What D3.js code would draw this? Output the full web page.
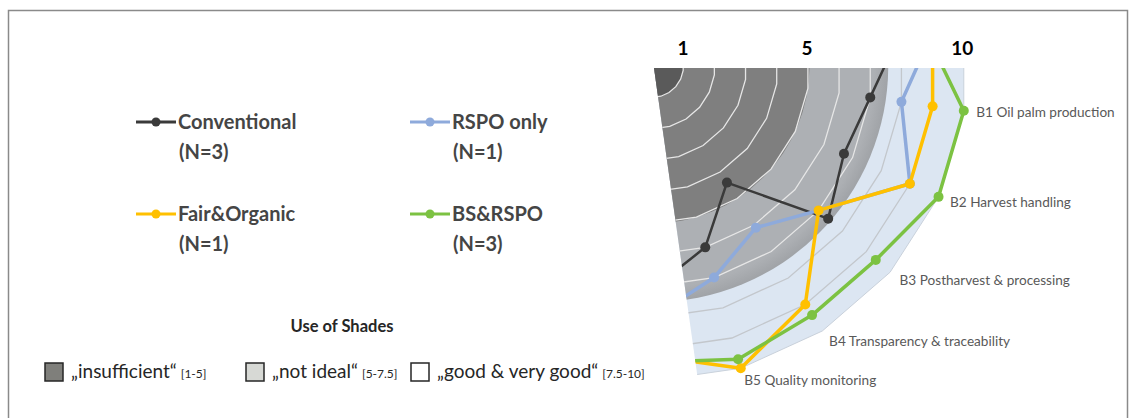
<!DOCTYPE html>
<html>
<head>
<meta charset="utf-8">
<script src="https://cdn.jsdelivr.net/npm/d3@7"></script>
<style>
  body { margin: 0; background: #fff; }
  text { font-family: Lato, "Open Sans", sans-serif; }
</style>
</head>
<body>
<svg id="chart" width="1135" height="418"></svg>
<script>
// radar has 22 spokes, only the B block (plus neighbours) is visible
var spokeCount = 22;
var spokeIndex = [5, 6, 7, 8, 9, 10, 11];
var axisLabels = ["", "B1 Oil palm production", "B2 Harvest handling", "B3 Postharvest & processing",
  "B4 Transparency & traceability", "B5 Quality monitoring", ""];

var seriesNames = ["Conventional", "RSPO only", "Fair&Organic", "BS&RSPO"];
var seriesN = ["(N=3)", "(N=1)", "(N=1)", "(N=3)"];
var seriesColors = ["#3a3a3a", "#8eaadb", "#ffc000", "#7cc242"];
var conventional = [8.0, 7.0, 6.7, 7.4, 4.4, 6.0, 7.1];
var rspoOnly = [9.1, 8.0, 9.0, 7.0, 6.1, 7.0, 8.0];
var fairOrganic = [9.0, 9.0, 9.0, 7.0, 9.0, 10.0, 9.2];
var bsRspo = [8.7, 10.0, 10.0, 9.4, 9.4, 9.7, 9.4];
var seriesValues = [conventional, rspoOnly, fairOrganic, bsRspo];

var tickValues = [1, 5, 10];
var shadeNames = ["\u201Einsufficient\u201C", "\u201Enot ideal\u201C", "\u201Egood & very good\u201C"];
var shadeRanges = ["[1-5]", "[5-7.5]", "[7.5-10]"];
var shadeBreaks = [1, 5, 7.5, 10];

var svg = d3.select("#chart");
var cx = 652, cy = 66;

var rScale = d3.scaleLinear().domain([0, 10]).range([0, 315]);
var angle = function (i) { return 2 * Math.PI * i / spokeCount; };   // 0 = up, clockwise
var px = function (i, v) { return cx + rScale(v) * Math.sin(angle(i)); };
var py = function (i, v) { return cy - rScale(v) * Math.cos(angle(i)); };

// frame
svg.append("rect")
  .attr("x", 8.5).attr("y", 10.5).attr("width", 1119).attr("height", 430)
  .attr("fill", "none").attr("stroke", "#8a8a8a").attr("stroke-width", 1.5);

// wedge clip: from the top cut to halfway between B5 and the next spoke
var defs = svg.append("defs");
var leftA = angle(10.5);
var far = 600;
defs.append("clipPath").attr("id", "wedge")
  .append("polygon")
  .attr("points", [
    [cx + 2, cy + 2],
    [cx + far, cy + 2],
    [cx + far, cy + far],
    [cx + far * Math.sin(leftA), cy - far * Math.cos(leftA)]
  ].map(function (p) { return p.join(","); }).join(" "));

var grad = defs.append("radialGradient").attr("id", "midShade");
grad.append("stop").attr("offset", "0%").attr("stop-color", "#adb0b4");
grad.append("stop").attr("offset", "94%").attr("stop-color", "#adb0b4");
grad.append("stop").attr("offset", "100%").attr("stop-color", "#a0a3a7");

var g = svg.append("g").attr("clip-path", "url(#wedge)");

var allSpokes = d3.range(spokeCount);
var ringLine = d3.lineRadial()
  .angle(function (i) { return angle(i); })
  .curve(d3.curveLinearClosed);

// outer "good" zone: light blue polygon
g.append("path")
  .attr("transform", "translate(" + cx + "," + cy + ")")
  .attr("d", ringLine.radius(rScale(shadeBreaks[3]))(allSpokes))
  .attr("fill", "#dce6f2")
  .attr("stroke", "#c9d1db").attr("stroke-width", 1);

// grey bands
g.append("circle").attr("cx", cx).attr("cy", cy).attr("r", rScale(shadeBreaks[2])).attr("fill", "url(#midShade)");
g.append("circle").attr("cx", cx).attr("cy", cy).attr("r", rScale(shadeBreaks[1])).attr("fill", "#7f7f7f");
g.append("circle").attr("cx", cx).attr("cy", cy).attr("r", rScale(shadeBreaks[0])).attr("fill", "#5a5a5a");

// grid rings
g.selectAll(".grid")
  .data(d3.range(1, 10))
  .enter().append("path")
  .attr("class", "grid")
  .attr("transform", "translate(" + cx + "," + cy + ")")
  .attr("d", function (v) { return ringLine.radius(rScale(v))(allSpokes); })
  .attr("fill", "none")
  .attr("stroke", function (v) { return v < 7.5 ? "#e6e6e6" : "#c3c7cc"; })
  .attr("stroke-width", 1.3);

// series lines + markers
var line = d3.line()
  .x(function (d, k) { return px(spokeIndex[k], d); })
  .y(function (d, k) { return py(spokeIndex[k], d); });
var widths = [2.5, 3.5, 3.5, 3.5];

seriesValues.forEach(function (vals, s) {
  g.append("path")
    .attr("d", line(vals))
    .attr("fill", "none")
    .attr("stroke", seriesColors[s])
    .attr("stroke-width", widths[s])
    .attr("stroke-linejoin", "round");
});
seriesValues.forEach(function (vals, s) {
  g.selectAll(".pt" + s)
    .data(vals.slice(1, 6))
    .enter().append("circle")
    .attr("cx", function (d, k) { return px(spokeIndex[k + 1], d); })
    .attr("cy", function (d, k) { return py(spokeIndex[k + 1], d); })
    .attr("r", 5)
    .attr("fill", seriesColors[s]);
});

// axis labels
svg.selectAll(".axlab")
  .data(axisLabels.slice(1, 6))
  .enter().append("text")
  .attr("x", function (d, k) { return px(spokeIndex[k + 1], 10.4); })
  .attr("y", function (d, k) { return py(spokeIndex[k + 1], 10.4); })
  .attr("dy", "0.35em")
  .attr("font-size", 13.6)
  .attr("fill", "#595959")
  .text(function (d) { return d; });

// scale labels on top
svg.selectAll(".tick")
  .data(tickValues)
  .enter().append("text")
  .attr("x", function (v) { return cx + rScale(v) * 0.985; })
  .attr("y", 55)
  .attr("text-anchor", "middle")
  .attr("font-size", 19)
  .attr("font-weight", "bold")
  .attr("fill", "#000")
  .text(function (v) { return v; });

// series legend
var legX = [136, 410], legY = [122, 214];
seriesNames.forEach(function (name, s) {
  var x = legX[s % 2], y = legY[Math.floor(s / 2)];
  var lg = svg.append("g").attr("transform", "translate(" + x + "," + y + ")");
  lg.append("line").attr("x1", 0).attr("x2", 40).attr("y1", 0).attr("y2", 0)
    .attr("stroke", seriesColors[s]).attr("stroke-width", 3);
  lg.append("circle").attr("cx", 20).attr("r", 4.5).attr("fill", seriesColors[s]);
  lg.append("text").attr("x", 42).attr("dy", "0.35em")
    .attr("font-size", 20).attr("font-weight", "bold").attr("fill", "#454545").text(name);
  lg.append("text").attr("x", 43).attr("y", 30).attr("dy", "0.35em")
    .attr("font-size", 20).attr("font-weight", "bold").attr("fill", "#454545").text(seriesN[s]);
});

// shade legend
svg.append("text")
  .attr("x", 342).attr("y", 326).attr("dy", "0.35em")
  .attr("text-anchor", "middle")
  .attr("font-size", 16.5).attr("font-weight", "bold").attr("fill", "#262626")
  .text("Use of Shades");

var shadeFill = ["#7f7f7b", "#d7d9d5", "#ffffff"];
var shadeX = [45, 246, 411];
shadeNames.forEach(function (name, k) {
  svg.append("rect")
    .attr("x", shadeX[k]).attr("y", 363).attr("width", 18).attr("height", 18)
    .attr("fill", shadeFill[k]).attr("stroke", "#262626").attr("stroke-width", 1.5);
  var t = svg.append("text")
    .attr("x", shadeX[k] + 26).attr("y", 372).attr("dy", "0.35em")
    .attr("fill", "#262626");
  t.append("tspan").attr("font-size", 19).text(name);
  t.append("tspan").attr("font-size", 12).attr("dx", 4).text(shadeRanges[k]);
});
</script>
</body>
</html>
